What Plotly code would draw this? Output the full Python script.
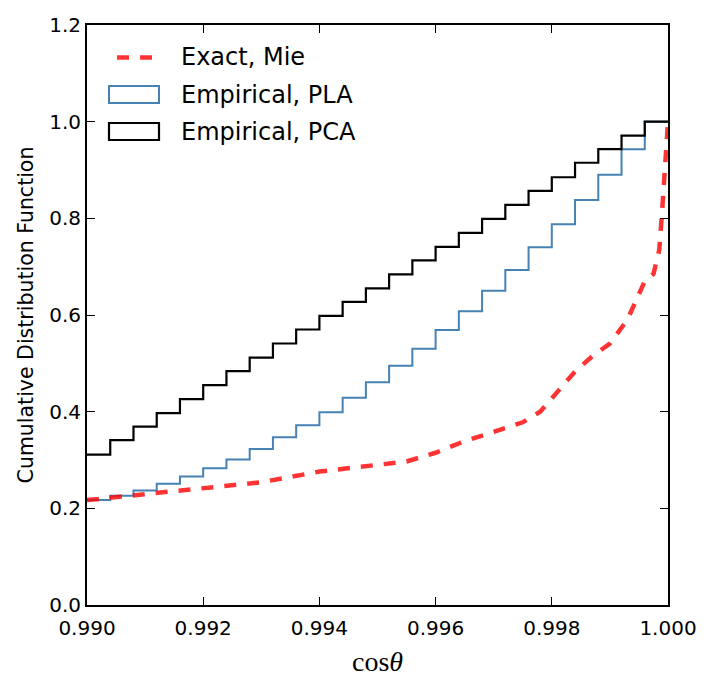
import plotly.graph_objects as go

# ---- data ----
bin_edges = [0.9900, 0.9904, 0.9908, 0.9912, 0.9916, 0.9920, 0.9924, 0.9928, 0.9932,
             0.9936, 0.9940, 0.9944, 0.9948, 0.9952, 0.9956, 0.9960, 0.9964, 0.9968,
             0.9972, 0.9976, 0.9980, 0.9984, 0.9988, 0.9992, 0.9996, 1.0000]

cdf_pca = [0.311, 0.341, 0.369, 0.397, 0.426, 0.455, 0.484, 0.512, 0.541, 0.570,
           0.598, 0.627, 0.655, 0.684, 0.713, 0.741, 0.770, 0.799, 0.828, 0.857,
           0.885, 0.915, 0.943, 0.971, 1.000]

cdf_pla = [0.217, 0.226, 0.237, 0.251, 0.266, 0.283, 0.301, 0.323, 0.347, 0.372,
           0.399, 0.429, 0.461, 0.495, 0.530, 0.569, 0.608, 0.650, 0.693, 0.740,
           0.788, 0.838, 0.890, 0.943, 1.000]

mie_cos = [0.9900, 0.9910, 0.9920, 0.9930, 0.9940, 0.9950, 0.9955, 0.9960, 0.9965,
           0.9970, 0.9975, 0.9978, 0.9981, 0.9984, 0.9987, 0.9990, 0.9993, 0.9996,
           0.99975, 0.99985, 0.9999, 0.99995, 1.0000]
mie_cdf = [0.217, 0.230, 0.241, 0.254, 0.276, 0.289, 0.297, 0.315, 0.339,
           0.358, 0.378, 0.400, 0.440, 0.483, 0.515, 0.541, 0.590, 0.670,
           0.685, 0.735, 0.817, 0.921, 1.000]

legend_labels = ["Exact, Mie", "Empirical, PLA", "Empirical, PCA"]
x_ticks = [0.990, 0.992, 0.994, 0.996, 0.998, 1.000]
y_ticks = [0.0, 0.2, 0.4, 0.6, 0.8, 1.0, 1.2]

RED = "rgba(255,0,0,0.8)"
BLUE = "#4682b4"
BLACK = "#000000"


def step_xy(edges, levels):
    xs = list(edges)
    ys = list(levels) + [levels[-1]]
    return xs, ys


fig = go.Figure()

px_, py_ = step_xy(bin_edges, cdf_pla)
fig.add_trace(go.Scatter(x=px_, y=py_, mode="lines", line=dict(shape="hv", color=BLUE, width=2),
                         name=legend_labels[1], showlegend=False))
cx_, cy_ = step_xy(bin_edges, cdf_pca)
fig.add_trace(go.Scatter(x=cx_, y=cy_, mode="lines", line=dict(shape="hv", color=BLACK, width=2.2),
                         name=legend_labels[2], showlegend=False))
fig.add_trace(go.Scatter(x=mie_cos, y=mie_cdf, mode="lines",
                         line=dict(color=RED, width=4.5, dash="12px,11px"),
                         name=legend_labels[0], showlegend=False))

# ---- layout geometry (pixels) ----
W, H = 714, 689
L, R, T, B = 87, 668, 25, 605


def pxx(x):
    return (x - L) / (R - L)


def pxy(y):
    return (B - y) / (B - T)


shapes = [
    # legend: red dashed line
    dict(type="line", xref="paper", yref="paper", x0=pxx(117), x1=pxx(153), y0=pxy(57.5), y1=pxy(57.5),
         line=dict(color=RED, width=4.5, dash="12px,11px")),
    # legend: blue patch
    dict(type="rect", xref="paper", yref="paper", x0=pxx(109), x1=pxx(159), y0=pxy(103), y1=pxy(86),
         line=dict(color=BLUE, width=2), fillcolor="rgba(0,0,0,0)"),
    # legend: black patch
    dict(type="rect", xref="paper", yref="paper", x0=pxx(109), x1=pxx(159), y0=pxy(140), y1=pxy(123),
         line=dict(color=BLACK, width=2.2), fillcolor="rgba(0,0,0,0)"),
]

annotations = []
for lab, yy in zip(legend_labels, [57.5, 94.5, 131.5]):
    annotations.append(dict(text=lab, xref="paper", yref="paper", x=pxx(179), y=pxy(yy),
                            xanchor="left", yanchor="middle", showarrow=False,
                            font=dict(family="DejaVu Sans", size=24, color="black")))

fig.update_layout(
    width=W, height=H, autosize=False,
    margin=dict(l=L, r=W - R, t=T, b=H - B, pad=0),
    plot_bgcolor="white", paper_bgcolor="white",
    font=dict(family="DejaVu Sans", size=20, color="black"),
    shapes=shapes, annotations=annotations,
    showlegend=False,
)

axis_common = dict(showline=True, linecolor="black", linewidth=2, mirror="ticks",
                   ticks="inside", ticklen=8, tickwidth=1, tickcolor="black",
                   showgrid=False, zeroline=False)

fig.update_xaxes(range=[0.990, 1.000], tickvals=x_ticks,
                 ticktext=[f"{v:.3f}" for v in x_ticks], ticklabelstandoff=4,
                 title=dict(text="cos<i>θ</i>", font=dict(family="Liberation Serif", size=28), standoff=12),
                 **axis_common)
fig.update_yaxes(range=[0.0, 1.2], tickvals=y_ticks,
                 ticktext=[f"{v:.1f}" for v in y_ticks],
                 title=dict(text="Cumulative Distribution Function", font=dict(family="DejaVu Sans", size=20.5),
                            standoff=10),
                 **axis_common)

fig.write_html("out.html")
